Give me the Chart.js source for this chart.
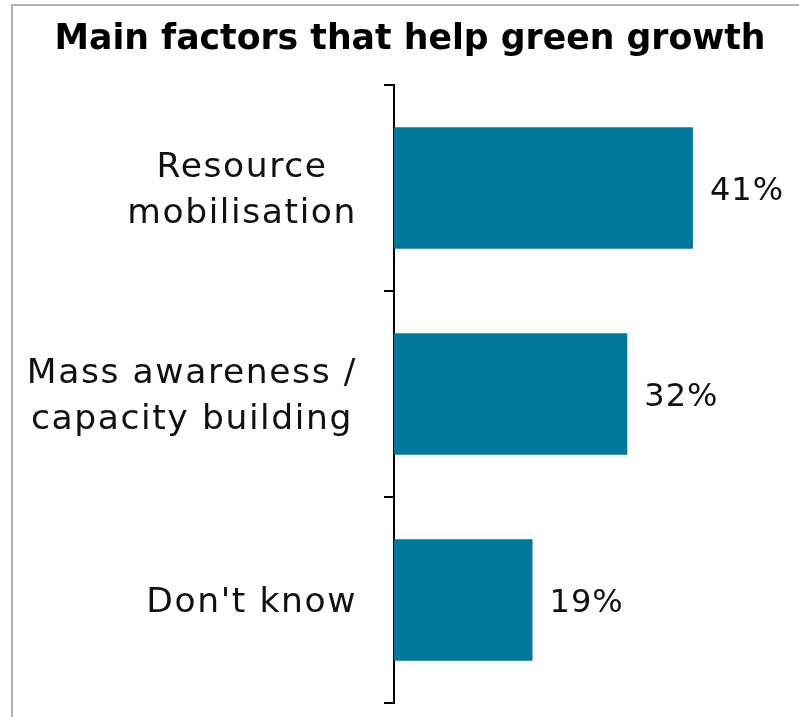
<!DOCTYPE html>
<html>
<head>
<meta charset="utf-8">
<script src="https://cdn.jsdelivr.net/npm/chart.js@4/dist/chart.umd.min.js"></script>
<style>
  html, body { margin: 0; padding: 0; background: #ffffff; }
  #wrap { width: 799px; height: 717px; position: relative; }
</style>
</head>
<body>
<div id="wrap"><canvas id="chart" width="799" height="717"></canvas></div>
<script>
// Survey shares (%) per factor
const categories = [
  ['Resource', 'mobilisation'],
  ['Mass awareness /', 'capacity building'],
  ["Don't know"]
];
const shares = [41, 32, 19];
const valueSuffix = '%';
const chartTitle = 'Main factors that help green growth';

const BAR_COLOR = '#00789c';
const TEXT_COLOR = '#111111';
const FONT = "'DejaVu Sans', sans-serif";

// Light grey frame along the top and left edges
const framePlugin = {
  id: 'frame',
  beforeDraw(chart) {
    const ctx = chart.ctx;
    ctx.save();
    ctx.strokeStyle = '#b3b3b3';
    ctx.lineWidth = 2;
    ctx.beginPath();
    ctx.moveTo(12, chart.height);
    ctx.lineTo(12, 5);
    ctx.lineTo(chart.width, 5);
    ctx.stroke();
    ctx.restore();
  }
};

// Category names: each block sits right of the tick gap, its lines centred on one another
const categoryLabels = {
  id: 'categoryLabels',
  afterDraw(chart) {
    const ctx = chart.ctx;
    const scale = chart.scales.y;
    const rightEdge = scale.right - 10 - 27;
    const lineGap = 46;
    ctx.save();
    ctx.font = "34.5px " + FONT;
    ctx.letterSpacing = '1.6px';
    ctx.fillStyle = TEXT_COLOR;
    ctx.textAlign = 'center';
    ctx.textBaseline = 'alphabetic';
    chart.data.labels.forEach((label, i) => {
      const lines = Array.isArray(label) ? label : [label];
      const widest = Math.max(...lines.map(l => ctx.measureText(l).width));
      const cx = rightEdge - widest / 2;
      const cy = scale.getPixelForTick(i);
      lines.forEach((line, j) => {
        const y = cy + (j - (lines.length - 1) / 2) * lineGap + 12;
        ctx.fillText(line, cx, y);
      });
    });
    ctx.restore();
  }
};

// Percentage label just past the end of each bar
const valueLabels = {
  id: 'valueLabels',
  afterDatasetsDraw(chart) {
    const ctx = chart.ctx;
    const meta = chart.getDatasetMeta(0);
    const values = chart.data.datasets[0].data;
    ctx.save();
    ctx.font = "32px " + FONT;
    ctx.letterSpacing = '1px';
    ctx.fillStyle = TEXT_COLOR;
    ctx.textAlign = 'left';
    ctx.textBaseline = 'alphabetic';
    meta.data.forEach((bar, i) => {
      ctx.fillText(values[i] + valueSuffix, bar.x + 17, bar.y + 12);
    });
    ctx.restore();
  }
};

new Chart(document.getElementById('chart'), {
  type: 'bar',
  data: {
    labels: categories,
    datasets: [{
      data: shares,
      backgroundColor: BAR_COLOR,
      borderWidth: 0,
      categoryPercentage: 1,
      barPercentage: 0.59
    }]
  },
  options: {
    indexAxis: 'y',
    responsive: false,
    animation: false,
    events: [],
    layout: { padding: { left: 25, right: 4, top: 0, bottom: 14 } },
    plugins: {
      legend: { display: false },
      tooltip: { enabled: false },
      title: {
        display: true,
        text: chartTitle,
        color: '#000000',
        font: { family: FONT, size: 34.7, weight: 'bold', lineHeight: 1.2 },
        padding: { top: 19, bottom: 24.4 }
      }
    },
    scales: {
      x: {
        display: false,
        min: 0,
        max: 55
      },
      y: {
        afterFit(scale) {
          scale.width = 369;
          scale.paddingTop = 0;
          scale.paddingBottom = 0;
        },
        border: { display: true, color: '#000000', width: 2 },
        grid: {
          display: true,
          offset: true,
          drawOnChartArea: false,
          drawTicks: true,
          tickLength: 10,
          color: '#000000',
          lineWidth: 2
        },
        ticks: { display: false }
      }
    }
  },
  plugins: [framePlugin, categoryLabels, valueLabels]
});
</script>
</body>
</html>
